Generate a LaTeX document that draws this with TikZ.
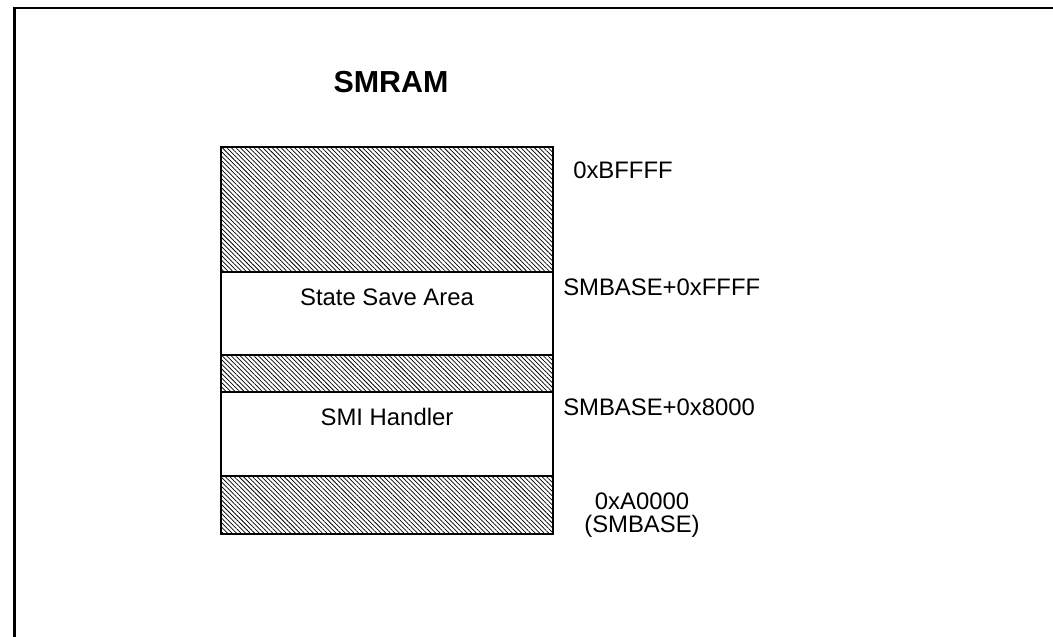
\documentclass[tikz,border=0pt]{standalone}
\usepackage{fontspec}
\setmainfont{Liberation Sans}
\usetikzlibrary{positioning,patterns.meta}

\begin{document}
\begin{tikzpicture}[x=0.75pt,y=0.75pt]
\tikzstyle{region}=[draw, line width=1.5pt, minimum width=249pt, inner sep=0pt, outer sep=0pt]
\tikzstyle{reserved}=[region, pattern={Lines[angle=-45,distance=2.4pt,line width=0.55pt]}]
\tikzstyle{addr}=[inner sep=0pt, font=\fontsize{17.9pt}{17.5pt}\selectfont]
\useasboundingbox (0,0) rectangle (1053,636);
\clip (0,0) rectangle (1053,636);
\draw[line width=1.9pt] (14.5,-20) rectangle (1080,628);

\node[inner sep=0pt, font=\fontsize{22.8pt}{27pt}\selectfont\bfseries] (title) at (391,554) {SMRAM};

% memory map, top to bottom
\node[reserved, minimum height=93.75pt, anchor=north] (top) at (387,489) {};
\node[region, minimum height=62.25pt, below=0pt of top] (save) {};
\node[reserved, minimum height=27.75pt, below=0pt of save] (gap) {};
\node[region, minimum height=63pt, below=0pt of gap] (handler) {};
\node[reserved, minimum height=43.5pt, below=0pt of handler] (base) {};

\node[addr] (savetxt) at ([yshift=-18.75pt]save.north) {State Save Area};
\node[addr] (handlertxt) at ([yshift=-18.75pt]handler.north) {SMI Handler};

% addresses
\node[addr, anchor=west] (topaddr) at ([xshift=15pt,yshift=-17.25pt]top.north east) {0xBFFFF};
\node[addr, anchor=west] (saveaddr) at ([xshift=7.5pt,yshift=-11.25pt]save.north east) {SMBASE+0xFFFF};
\node[addr, anchor=west] (handleraddr) at ([xshift=7.5pt,yshift=-11.25pt]handler.north east) {SMBASE+0x8000};
\node[addr, align=center] (baseaddr) at ([xshift=66.75pt,yshift=-29.6pt]base.north east) {0xA0000\\(SMBASE)};

\end{tikzpicture}
\end{document}
